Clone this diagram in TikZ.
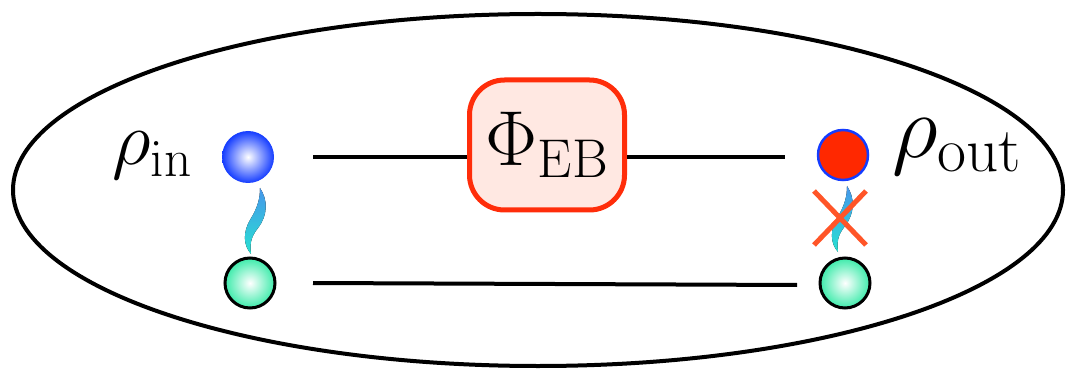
\documentclass[tikz,border=0pt]{standalone}
\usepackage{fix-cm}
\usetikzlibrary{shadings}
\definecolor{boxred}{RGB}{255,45,10}
\definecolor{boxfill}{RGB}{255,232,226}
\definecolor{ballblue}{RGB}{20,60,255}
\definecolor{ballgreen}{RGB}{60,235,170}
\definecolor{ballred}{RGB}{255,40,0}
\definecolor{xred}{RGB}{255,85,40}
\definecolor{wtop}{RGB}{70,150,235}
\definecolor{wbot}{RGB}{40,225,210}
\tikzset{
  wire/.style={line width=4pt},
  intext/.style={font=\fontsize{76}{80}\selectfont, inner sep=0pt},
  outtext/.style={font=\fontsize{90}{95}\selectfont, inner sep=0pt},
  bluesphere/.style={circle, minimum size=52pt, inner sep=0pt, inner color=white, outer color=ballblue},
  greensphere/.style={circle, minimum size=50pt, inner sep=0pt, inner color=white, outer color=ballgreen, draw=black, line width=3pt},
  redsphere/.style={circle, minimum size=50pt, inner sep=0pt, fill=ballred, draw=ballblue, line width=2.5pt},
  channel/.style={rectangle, rounded corners=35pt, minimum width=155pt, minimum height=130pt, fill=boxfill, draw=boxred, line width=5pt, inner sep=0pt, font=\fontsize{78}{84}\selectfont},
  wiggle/.style={top color=wtop, bottom color=wbot, draw=none},
  cross/.style={draw=xred, line width=5pt}
}
\begin{document}
\begin{tikzpicture}[x=1pt,y=-1pt]
\useasboundingbox (0,0) rectangle (1075,371);
\draw[line width=4pt] (538,190) ellipse [x radius=525, y radius=176];
% entanglement wiggles
\fill[wiggle] (260,188) .. controls (268,200) and (268,215) .. (258,228) .. controls (250,238) and (250,245) .. (251,254)
   .. controls (243,245) and (243,232) .. (250,220) .. controls (258,207) and (260,198) .. (260,188) -- cycle;
\fill[wiggle] (847,186) .. controls (855,198) and (855,213) .. (845,226) .. controls (837,236) and (837,243) .. (838,252)
   .. controls (830,243) and (830,230) .. (837,218) .. controls (845,205) and (847,196) .. (847,186) -- cycle;
\node[bluesphere] (a1) at (248,157) {};
\node[greensphere] (a2) at (250,283) {};
\node[redsphere] (b1) at (843,155) {};
\node[greensphere] (b2) at (845,283) {};
\node[channel] (ch) at (547,145) {$\Phi_{\mathrm{EB}}$};
\coordinate (l1) at (313,157);
\coordinate (r1) at (785,157);
\coordinate (l2) at (313,283);
\coordinate (r2) at (797,285);
\draw[wire] (l1) -- (ch.west |- l1);
\draw[wire] (ch.east |- r1) -- (r1);
\draw[wire] (l2) -- (r2);
\node[intext, anchor=base east] (rin) at (192,165) {$\rho_{\mathrm{in}}$};
\node[outtext, anchor=base west] (rout) at (892,158) {$\rho_{\mathrm{out}}$};
\coordinate (x1) at (814,191);
\coordinate (x2) at (866,245);
\coordinate (x3) at (866,191);
\coordinate (x4) at (814,245);
\draw[cross] (x1) -- (x2);
\draw[cross] (x3) -- (x4);
\end{tikzpicture}
\end{document}
